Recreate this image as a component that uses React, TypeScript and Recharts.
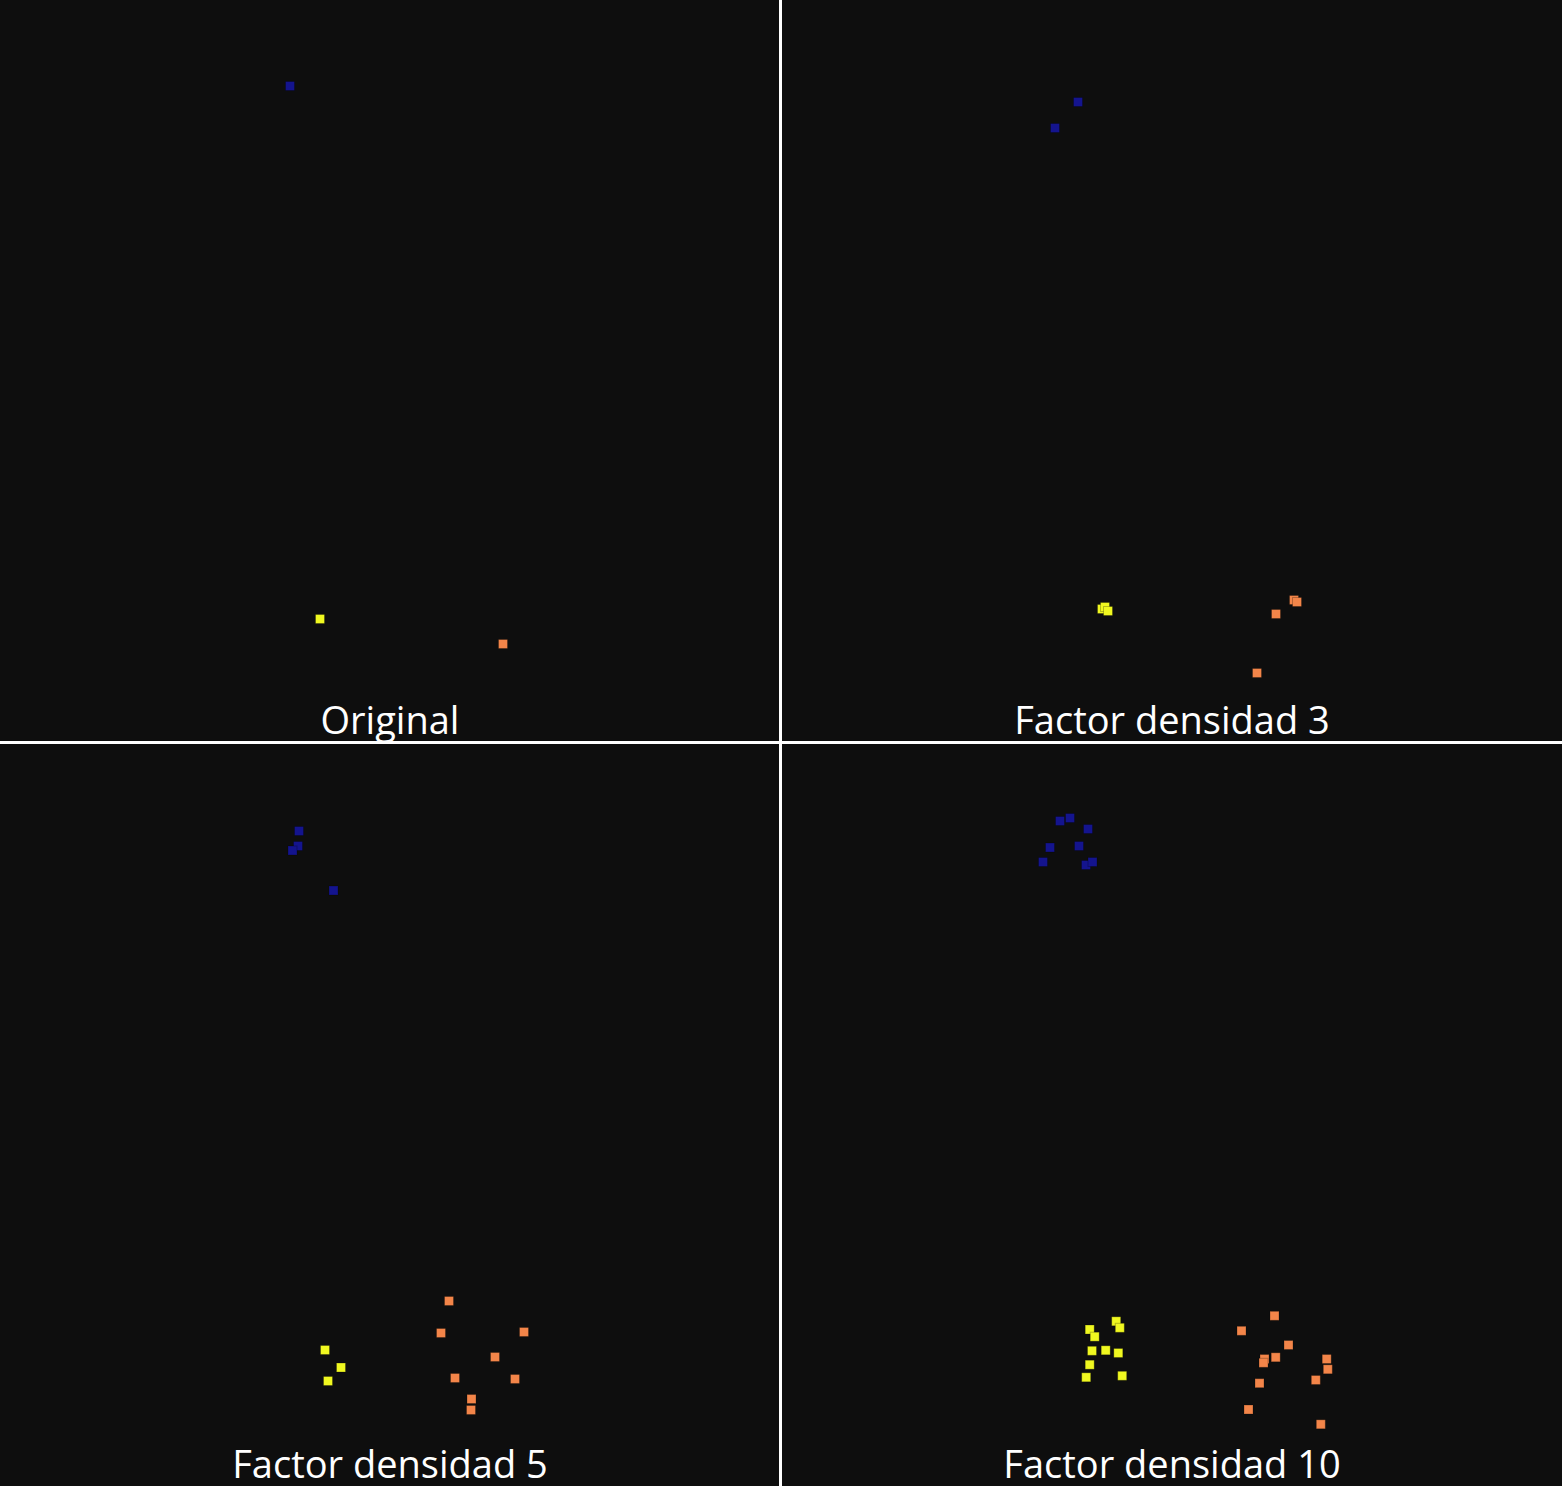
import { Scatter, ScatterChart, XAxis, YAxis } from "recharts"

const BG = "#0e0e0e"
const BLUE = "#14148e"
const YELLOW = "#f0f820"
const ORANGE = "#f38549"

type Pt = { x: number; y: number }

// Panel titles
const titles = ["Original", "Factor densidad 3", "Factor densidad 5", "Factor densidad 10"]

// Points per panel, in panel units (x: 0–780, y: 0–742 from the top)
const originalBlue: Pt[] = [{ x: 290, y: 86 }]
const originalYellow: Pt[] = [{ x: 320, y: 619 }]
const originalOrange: Pt[] = [{ x: 503, y: 644 }]

const factor3Blue: Pt[] = [
  { x: 296, y: 102 },
  { x: 273, y: 128 },
]
const factor3Yellow: Pt[] = [
  { x: 320, y: 609 },
  { x: 323, y: 607 },
  { x: 326, y: 611 },
]
const factor3Orange: Pt[] = [
  { x: 512, y: 600 },
  { x: 515, y: 602 },
  { x: 494, y: 614 },
  { x: 475, y: 673 },
]

const factor5Blue: Pt[] = [
  { x: 299, y: 87 },
  { x: 298, y: 102 },
  { x: 292.5, y: 106.5 },
  { x: 333.5, y: 146.5 },
]
const factor5Yellow: Pt[] = [
  { x: 325, y: 606 },
  { x: 341, y: 623.5 },
  { x: 328, y: 637 },
]
const factor5Orange: Pt[] = [
  { x: 449, y: 557 },
  { x: 441, y: 589 },
  { x: 524, y: 588 },
  { x: 495, y: 613 },
  { x: 455, y: 634 },
  { x: 515, y: 635 },
  { x: 471.5, y: 655 },
  { x: 471, y: 666 },
]

const factor10Blue: Pt[] = [
  { x: 278, y: 77 },
  { x: 288, y: 74 },
  { x: 306, y: 85 },
  { x: 268, y: 103.5 },
  { x: 297, y: 102 },
  { x: 261, y: 118 },
  { x: 304, y: 121 },
  { x: 310.5, y: 118 },
]
const factor10Yellow: Pt[] = [
  { x: 307.7, y: 585.5 },
  { x: 312.7, y: 592.7 },
  { x: 334.2, y: 577.3 },
  { x: 337.8, y: 583.8 },
  { x: 310, y: 606.8 },
  { x: 323.7, y: 606.3 },
  { x: 336.3, y: 609 },
  { x: 307.7, y: 620.7 },
  { x: 304.2, y: 633.3 },
  { x: 340.2, y: 631.8 },
]
const factor10Orange: Pt[] = [
  { x: 492.5, y: 571.8 },
  { x: 459.5, y: 586.8 },
  { x: 506.5, y: 601 },
  { x: 482.5, y: 615 },
  { x: 481.5, y: 618.8 },
  { x: 493.7, y: 613.3 },
  { x: 544.7, y: 615 },
  { x: 545.8, y: 625.3 },
  { x: 533.8, y: 636 },
  { x: 477.5, y: 639.2 },
  { x: 466.5, y: 665.5 },
  { x: 538.8, y: 680.3 },
]

const panels = [
  { title: titles[0], blue: originalBlue, yellow: originalYellow, orange: originalOrange },
  { title: titles[1], blue: factor3Blue, yellow: factor3Yellow, orange: factor3Orange },
  { title: titles[2], blue: factor5Blue, yellow: factor5Yellow, orange: factor5Orange },
  { title: titles[3], blue: factor10Blue, yellow: factor10Yellow, orange: factor10Orange },
]

const W = 780
const H = 742
const SIDE = 9

function square(color: string) {
  return (props: any) => {
    const { cx, cy } = props
    if (cx == null || cy == null) return <g />
    return (
      <rect
        x={cx - SIDE / 2}
        y={cy - SIDE / 2}
        width={SIDE}
        height={SIDE}
        fill={color}
        stroke="rgba(0,0,0,0.25)"
        strokeWidth={1}
      />
    )
  }
}

function Panel({ title, blue, yellow, orange, left, top, width, height }: any) {
  return (
    <div
      style={{
        position: "absolute",
        left,
        top,
        width,
        height,
        background: BG,
        overflow: "hidden",
      }}
    >
      <ScatterChart width={W} height={H} margin={{ top: 0, right: 0, bottom: 0, left: 0 }}>
        <XAxis type="number" dataKey="x" domain={[0, W]} hide />
        <YAxis type="number" dataKey="y" domain={[0, H]} reversed hide />
        <Scatter data={blue} shape={square(BLUE)} isAnimationActive={false} />
        <Scatter data={yellow} shape={square(YELLOW)} isAnimationActive={false} />
        <Scatter data={orange} shape={square(ORANGE)} isAnimationActive={false} />
      </ScatterChart>
      <div
        style={{
          position: "absolute",
          left: 0,
          width: W,
          top: 699,
          textAlign: "center",
          color: "#ffffff",
          fontFamily: "'Open Sans', sans-serif",
          fontSize: 38,
          lineHeight: "40px",
          whiteSpace: "nowrap",
        }}
      >
        {title}
      </div>
    </div>
  )
}

export default function App() {
  return (
    <div
      style={{
        position: "absolute",
        left: 0,
        top: 0,
        width: 1562,
        height: 1486,
        background: "#ffffff",
        overflow: "hidden",
      }}
    >
      <Panel {...panels[0]} left={0} top={0} width={779} height={741} />
      <Panel {...panels[1]} left={782} top={0} width={780} height={741} />
      <Panel {...panels[2]} left={0} top={744} width={779} height={742} />
      <Panel {...panels[3]} left={782} top={744} width={780} height={742} />
    </div>
  )
}
